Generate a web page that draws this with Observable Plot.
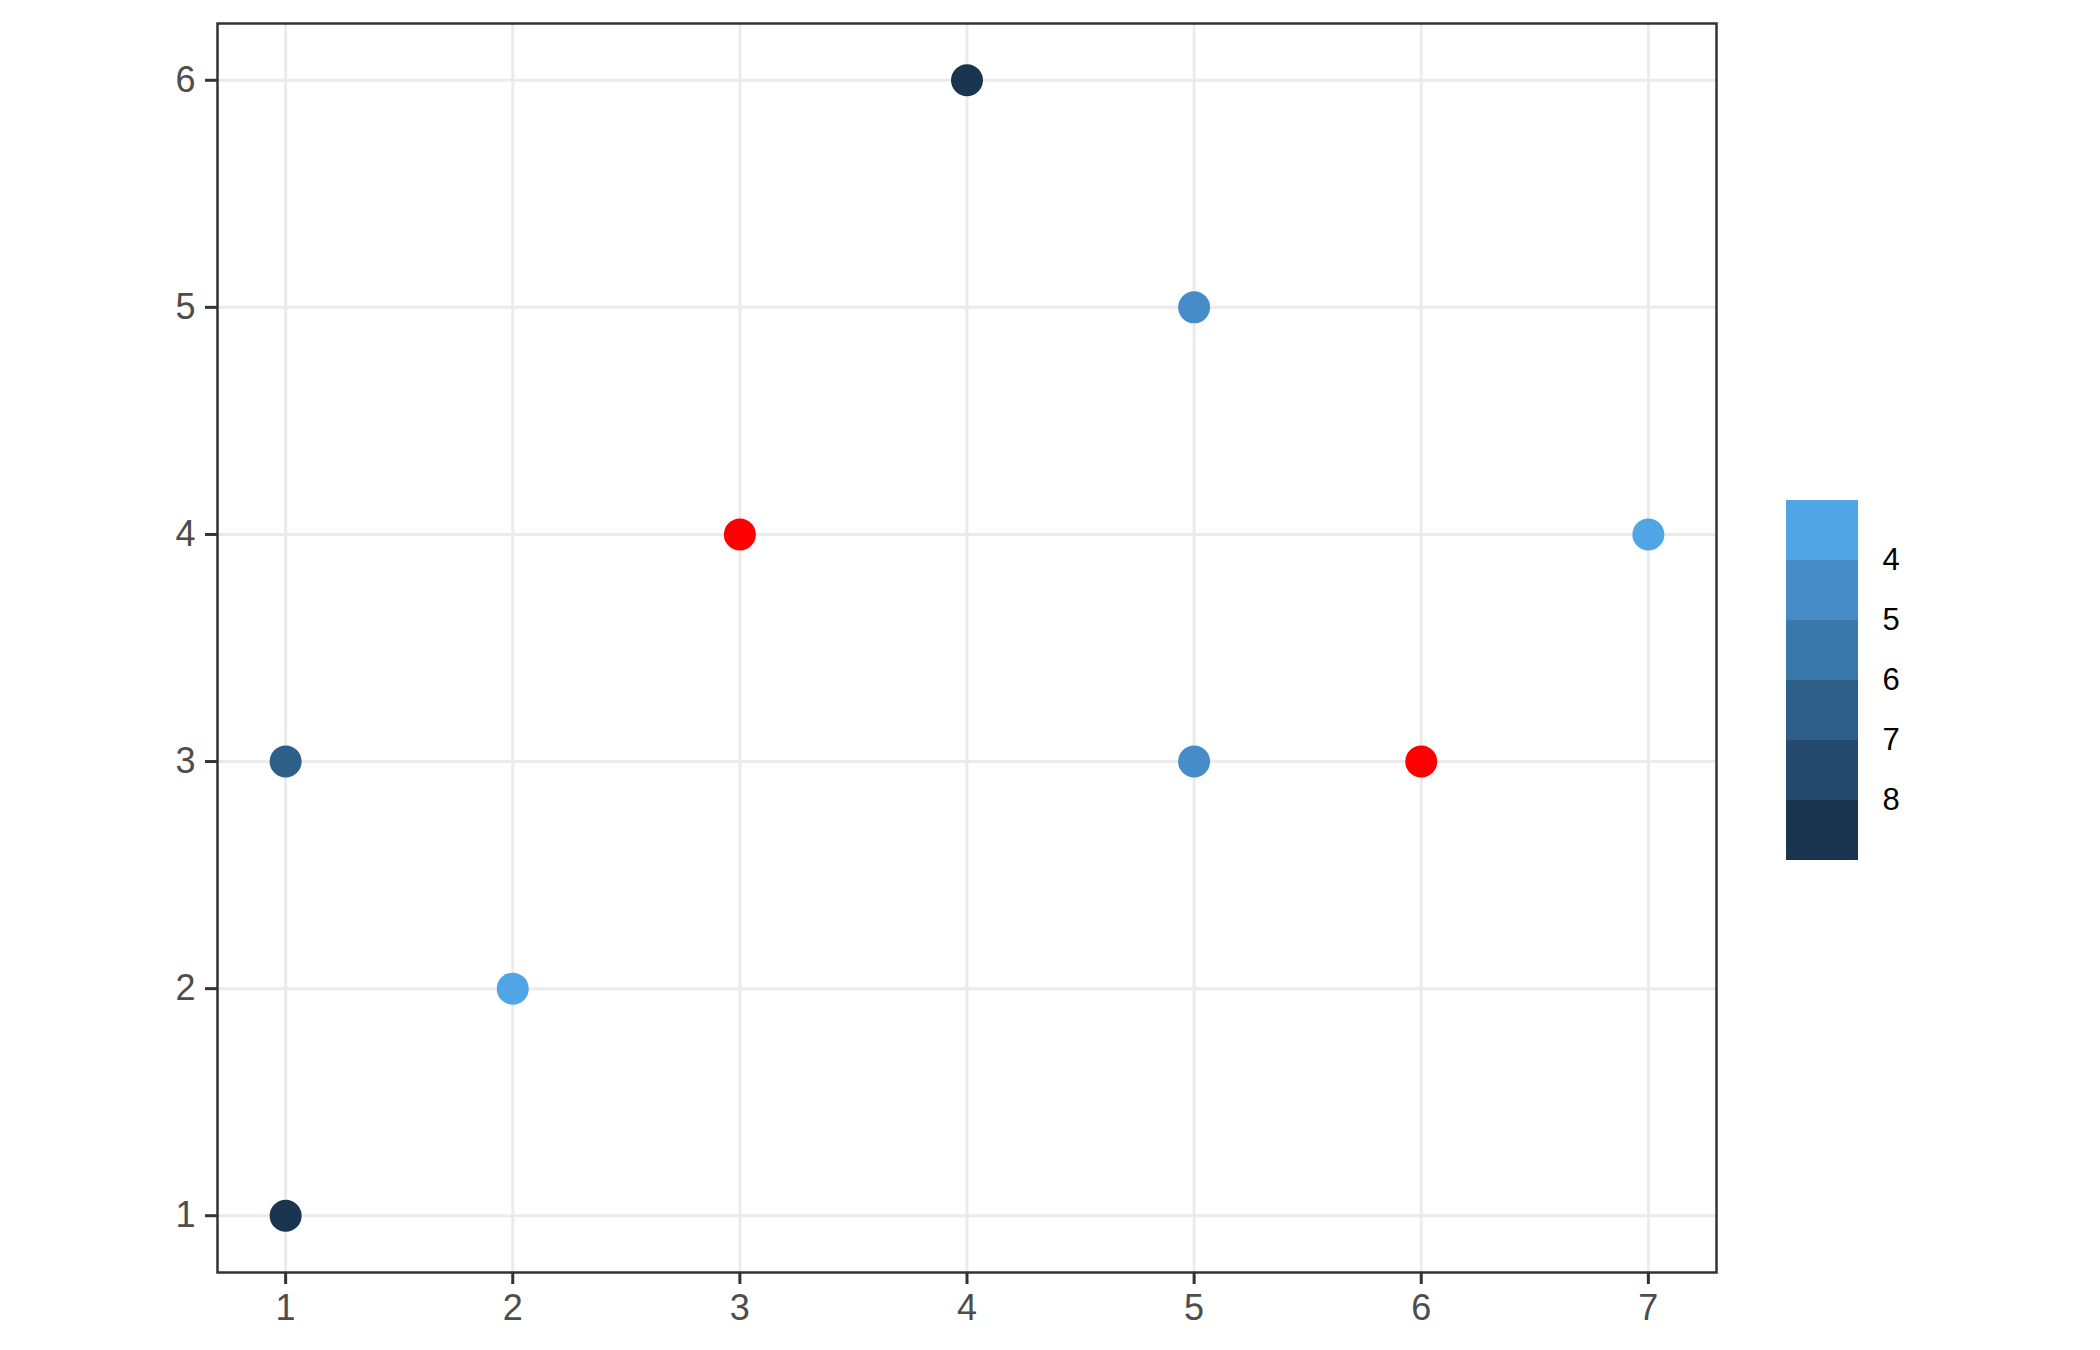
<!DOCTYPE html>
<html><head><meta charset="utf-8">
<script src="https://cdn.jsdelivr.net/npm/d3@7"></script>
<script src="https://cdn.jsdelivr.net/npm/@observablehq/plot@0.6"></script>
<style>
body{margin:0;background:#fff;}
#wrap{position:relative;width:2100px;height:1350px;background:#fff;}
#main{position:absolute;left:0;top:0;}
#legend{position:absolute;left:1786px;top:490px;}
</style></head><body><div id="wrap"><div id="main"></div><div id="legend"></div></div>
<script>
const xs = [1, 1, 2, 3, 4, 5, 5, 6, 7];
const ys = [1, 3, 2, 4, 6, 5, 3, 3, 4];
const vals = [8.6, 6.5, 3.5, null, 8.6, 4.5, 4.5, null, 3.5];
const breaks = [4, 5, 6, 7, 8];
const binColors = ["#50A5E5", "#468CC8", "#3A77AA", "#2E5F88", "#234A6C", "#1A3550"];
const binMids = [3.5, 4.5, 5.5, 6.5, 7.5, 8.5];
const xTicks = [1, 2, 3, 4, 5, 6, 7];
const yTicks = [1, 2, 3, 4, 5, 6];
const naColor = "red";

const points = xs.map((x, i) => ({x, y: ys[i], v: vals[i]}));
const font = "'Liberation Sans', Arial, sans-serif";
const colorScale = {type: "threshold", domain: breaks, range: binColors};
const fmt = d => String(d);

const main = Plot.plot({
  width: 1750, height: 1350,
  marginLeft: 217, marginTop: 23, marginRight: 34, marginBottom: 78,
  x: {domain: [0.7, 7.3], label: null},
  y: {domain: [0.75, 6.25], label: null},
  color: colorScale,
  style: {fontFamily: font, background: "#fff"},
  marks: [
    Plot.ruleX(xTicks, {x: d => d, stroke: "#EBEBEB", strokeWidth: 3}),
    Plot.ruleY(yTicks, {y: d => d, stroke: "#EBEBEB", strokeWidth: 3}),
    Plot.dot(points.filter(d => d.v != null), {x: "x", y: "y", fill: "v", r: 16}),
    Plot.dot(points.filter(d => d.v == null), {x: "x", y: "y", fill: naColor, r: 16}),
    Plot.frame({stroke: "#333333", strokeWidth: 2.5}),
    Plot.axisX(xTicks, {tickSize: 12, tickPadding: 10, fontSize: 36, tickFormat: fmt, fill: "#4D4D4D", stroke: "#333333", strokeWidth: 3, label: null}),
    Plot.axisY(yTicks, {tickSize: 12, tickPadding: 10, fontSize: 36, tickFormat: fmt, fill: "#4D4D4D", stroke: "#333333", strokeWidth: 3, label: null})
  ]
});
document.getElementById("main").appendChild(main);

const legend = Plot.plot({
  width: 152, height: 380,
  marginLeft: 0, marginRight: 80, marginTop: 10, marginBottom: 10,
  x: {domain: [0, 1], axis: null},
  y: {domain: [3, 9], range: [10, 370], axis: null},
  color: colorScale,
  style: {fontFamily: font, background: "#fff"},
  marks: [
    Plot.rect(binMids, {x1: 0, x2: 1, y1: d => d - 0.5, y2: d => d + 0.5, fill: d => d}),
    Plot.axisY(breaks, {anchor: "right", tickSize: 0, tickPadding: 24, fontSize: 31, tickFormat: fmt, fill: "#000", label: null})
  ]
});
document.getElementById("legend").appendChild(legend);
</script></body></html>
